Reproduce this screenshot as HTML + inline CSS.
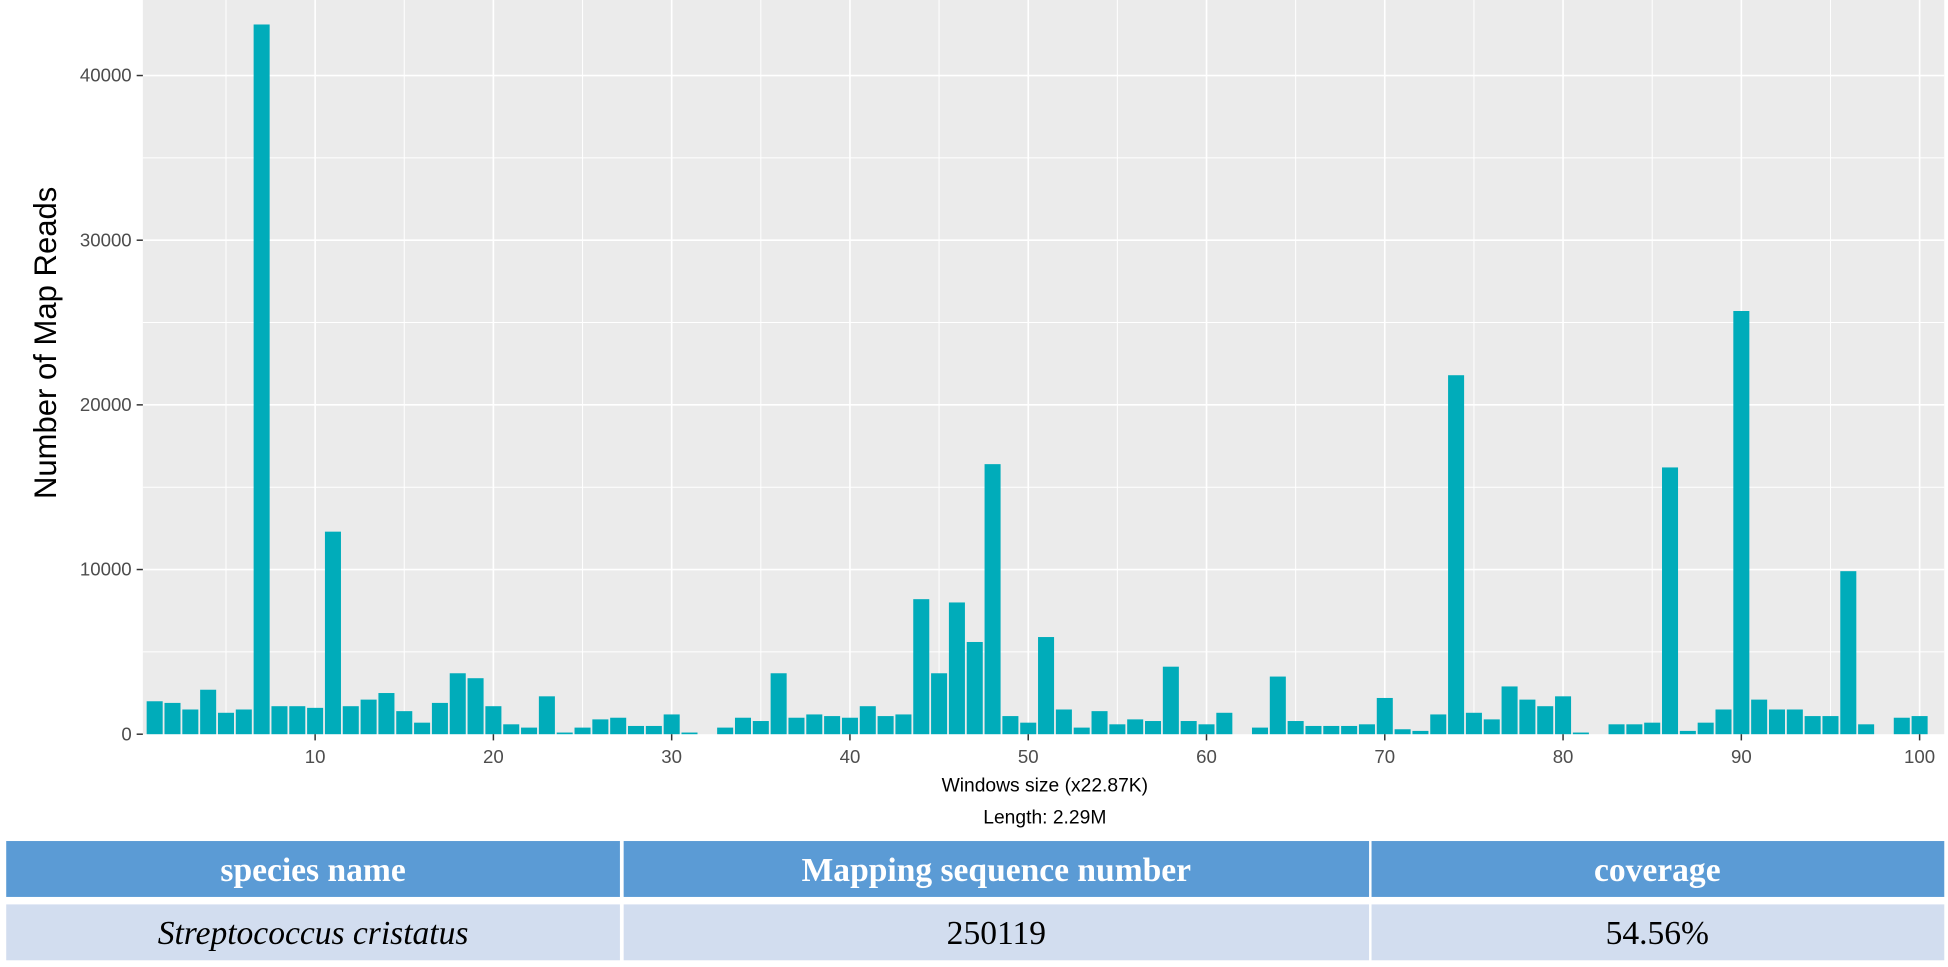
<!DOCTYPE html>
<html><head><meta charset="utf-8"><style>
html,body{margin:0;padding:0;background:#fff;}
svg{display:block;}
</style></head><body>
<svg id="chart" width="1948" height="967" viewBox="0 0 1568 778.4" preserveAspectRatio="none" xmlns="http://www.w3.org/2000/svg">
<rect x="115" y="0" width="1450" height="591" fill="#ebebeb"/>
<g id="grid"></g>
<g id="bars"></g>
<g id="axes"></g>
<text transform="translate(45,276) rotate(-90)" text-anchor="middle" font-family="Liberation Sans, sans-serif" font-size="25" fill="#000">Number of Map Reads</text>
<text x="841" y="637" text-anchor="middle" font-family="Liberation Sans, sans-serif" font-size="15.5" fill="#000">Windows size (x22.87K)</text>
<text x="841" y="663" text-anchor="middle" font-family="Liberation Sans, sans-serif" font-size="15.5" fill="#000">Length: 2.29M</text>
<g font-family="Liberation Serif, serif" font-size="27">
<rect x="5" y="677" width="494" height="45" fill="#5b9bd5"/>
<rect x="502" y="677" width="600" height="45" fill="#5b9bd5"/>
<rect x="1104" y="677" width="461" height="45" fill="#5b9bd5"/>
<rect x="5" y="728" width="494" height="45" fill="#d2ddef"/>
<rect x="502" y="728" width="600" height="45" fill="#d2ddef"/>
<rect x="1104" y="728" width="461" height="45" fill="#d2ddef"/>
<text x="252" y="709" text-anchor="middle" font-weight="bold" fill="#fff">species name</text>
<text x="802" y="709" text-anchor="middle" font-weight="bold" fill="#fff">Mapping sequence number</text>
<text x="1334" y="709" text-anchor="middle" font-weight="bold" fill="#fff">coverage</text>
<text x="252" y="760" text-anchor="middle" font-style="italic" fill="#000">Streptococcus cristatus</text>
<text x="802" y="760" text-anchor="middle" fill="#000">250119</text>
<text x="1334" y="760" text-anchor="middle" fill="#000">54.56%</text>
</g>
</svg>
<script>
const windows = Array.from({length:100},(_, i)=>i+1);
const reads = [2000,1900,1500,2700,1300,1500,43100,1700,1700,1600,
12300,1700,2100,2500,1400,700,1900,3700,3400,1700,
600,400,2300,100,400,900,1000,500,500,1200,
100,0,400,1000,800,3700,1000,1200,1100,1000,
1700,1100,1200,8200,3700,8000,5600,16400,1100,700,
5900,1500,400,1400,600,900,800,4100,800,600,
1300,0,400,3500,800,500,500,500,600,2200,
300,200,1200,21800,1300,900,2900,2100,1700,2300,
100,0,600,600,700,16200,200,700,1500,25700,
2100,1500,1500,1100,1100,9900,600,0,1000,1100];
const yTicks = [0,10000,20000,30000,40000];
const xTicks = [10,20,30,40,50,60,70,80,90,100];
const NS='http://www.w3.org/2000/svg';
const xs = v => 124.5 + (v-1)*14.35;
const ys = v => 591 - v*0.013255;
const grid=document.getElementById('grid'), bars=document.getElementById('bars'), axes=document.getElementById('axes');
function mk(tag,attrs,parent){const e=document.createElementNS(NS,tag);for(const k in attrs)e.setAttribute(k,attrs[k]);parent.appendChild(e);return e;}
for(let v=5000; v<=45000; v+=5000){
  const l=mk('line',{x1:115,x2:1565,y1:ys(v),y2:ys(v),stroke:'#fff','stroke-width':v%10000?0.8:1.3},grid);
  
  
}
for(let v=5; v<=100; v+=5){
  const l=mk('line',{x1:xs(v),x2:xs(v),y1:0,y2:591,stroke:'#fff','stroke-width':v%10?0.8:1.3},grid);
  
  
}
windows.forEach((w,i)=>{
  const v=reads[i]; if(v<=0) return;
  const r=mk('rect',{x:xs(w)-6.45,width:12.9,y:ys(v),height:591-ys(v),fill:'#00acba'},bars);
  
  
});
yTicks.forEach(v=>{
  mk('line',{x1:110,x2:115,y1:ys(v),y2:ys(v),stroke:'#333','stroke-width':1.2},axes);
  const t=mk('text',{x:106,y:ys(v)+5,'text-anchor':'end','font-family':'Liberation Sans, sans-serif','font-size':15,fill:'#4d4d4d'},axes);
  t.textContent=v;
  
  
});
xTicks.forEach(v=>{
  mk('line',{x1:xs(v),x2:xs(v),y1:591,y2:596,stroke:'#333','stroke-width':1.2},axes);
  const t=mk('text',{x:xs(v),y:614,'text-anchor':'middle','font-family':'Liberation Sans, sans-serif','font-size':15,fill:'#4d4d4d'},axes);
  t.textContent=v;
  
  
});
</script>
</body></html>
